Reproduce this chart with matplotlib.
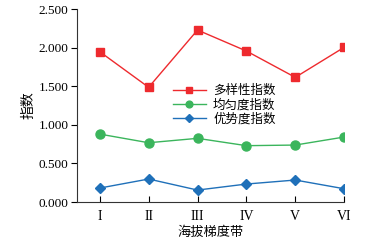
import matplotlib
matplotlib.use("Agg")
import matplotlib.pyplot as plt

plt.rcParams['font.family'] = ['Liberation Serif', 'Noto Sans CJK SC']

categories = ["I", "II", "III", "IV", "V", "VI"]
diversity = [1.947, 1.486, 2.228, 1.956, 1.615, 2.004]
evenness = [0.880, 0.768, 0.825, 0.730, 0.738, 0.842]
dominance = [0.181, 0.298, 0.155, 0.233, 0.285, 0.172]
yticks = [0.0, 0.5, 1.0, 1.5, 2.0, 2.5]
ytick_labels = ["0.000", "0.500", "1.000", "1.500", "2.000", "2.500"]

fig = plt.figure(figsize=(3.88, 2.44), dpi=100)
ax = fig.add_axes([0.198, 0.172, 0.689, 0.791])
x = list(range(1, len(categories) + 1))

ax.plot(x, diversity, color="#ee2a2e", marker="s", markersize=6, linewidth=1.0, label="多样性指数")
ax.plot(x, evenness, color="#3bb55c", marker="o", markersize=6.5, linewidth=1.0, label="均匀度指数")
ax.plot(x, dominance, color="#1f70b9", marker="D", markersize=5, linewidth=1.0, label="优势度指数")

ax.set_xlim(1 - 23 / 49, 6)
ax.set_ylim(0, 2.5)
ax.set_xticks(x)
ax.set_xticklabels(categories, fontsize=10)
ax.set_yticks(yticks)
ax.set_yticklabels(ytick_labels, fontsize=9.5)
ax.tick_params(axis='x', direction='in', length=4, width=0.8, pad=6)
ax.tick_params(axis='y', direction='out', length=4, width=0.8, pad=2)
for s in ("top", "right"):
    ax.spines[s].set_visible(False)
for s in ("left", "bottom"):
    ax.spines[s].set_linewidth(0.8)
    ax.spines[s].set_color("#333333")

ax.set_ylabel("指数", fontsize=10, labelpad=2)
ax.set_xlabel("海拔梯度带", fontsize=9.5, labelpad=2)

ax.legend(loc="upper left", bbox_to_anchor=(0.36, 0.605), frameon=False, fontsize=9,
          handlelength=2.6, handletextpad=0.6, labelspacing=0.12, borderaxespad=0,
          borderpad=0, markerscale=0.75)

fig.savefig("out.png", dpi=100)
